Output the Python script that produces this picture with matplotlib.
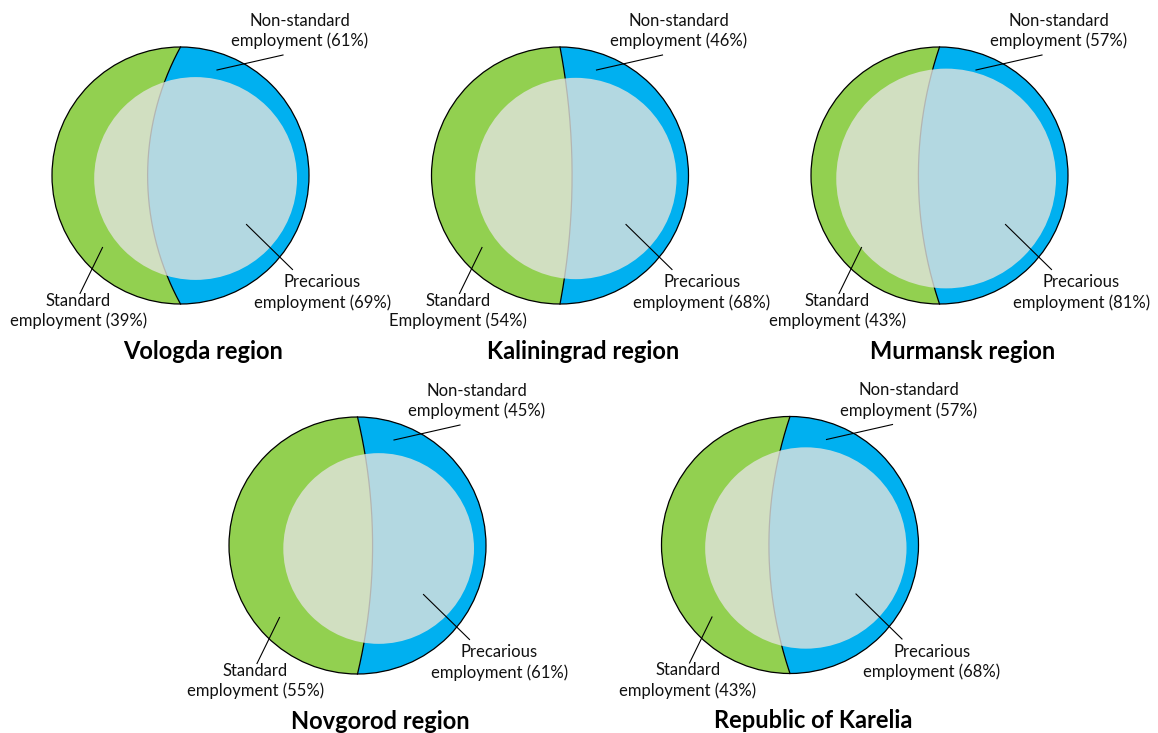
import numpy as np
import matplotlib
matplotlib.use("Agg")
import matplotlib.pyplot as plt
from matplotlib.patches import Polygon, Circle

# ---- data ----
regions = ["Vologda region", "Kaliningrad region", "Murmansk region",
           "Novgorod region", "Republic of Karelia"]
standard = [39, 54, 43, 55, 43]
nonstandard = [61, 46, 57, 45, 57]
precarious = [69, 68, 81, 61, 68]
standard_words = ["Standard\nemployment", "Standard\nEmployment", "Standard\nemployment",
                  "Standard\nemployment", "Standard\nemployment"]

# ---- layout (pixel space) ----
W, H = 1158, 733
centers = [(180.5, 175.5), (560, 175.5), (939.5, 175.5), (357.5, 545.5), (790, 545)]
R = 128.5
GREEN = "#92D050"
BLUE = "#00B0F0"
OVERLAY = (225/255, 227/255, 222/255)
FONT = "Lato"

plt.rcParams['font.family'] = [FONT, 'DejaVu Sans']

fig = plt.figure(figsize=(W/100, H/100), dpi=100)
ax = fig.add_axes([0, 0, 1, 1])
ax.set_xlim(0, W)
ax.set_ylim(H, 0)
ax.axis("off")


def seg_area(s, r):
    # area between chord of length 2r and arc with sagitta s
    if s <= 1e-9:
        return 0.0
    rc = (r*r + s*s) / (2*s)
    th = np.arcsin(min(1.0, r/rc))
    return rc*rc*(th - np.sin(th)*np.cos(th))


def solve_sagitta(frac, r):
    target = abs(0.5 - frac) * np.pi * r * r
    lo, hi = 0.0, r
    for _ in range(60):
        mid = (lo+hi)/2
        if seg_area(mid, r) < target:
            lo = mid
        else:
            hi = mid
    return lo


def divider_points(cx, cy, r, s, n=200):
    # arc from top (cx, cy-r) to bottom (cx, cy+r); s>0 bulges right
    ys = np.linspace(-r, r, n)
    if abs(s) < 1e-6:
        xs = np.zeros_like(ys)
    else:
        rc = (r*r + s*s) / (2*abs(s))
        xs = np.sqrt(rc*rc - ys*ys) - (rc - abs(s))
        xs = xs*np.sign(s)
    return cx + xs, cy + ys


for i, name in enumerate(regions):
    cx, cy = centers[i]
    f = standard[i] / (standard[i] + nonstandard[i])
    s = solve_sagitta(f, R)
    s = s if f > 0.5 else -s
    dx, dy = divider_points(cx, cy, R, s)  # top -> bottom

    ang = np.linspace(np.pi/2, 3*np.pi/2, 200)  # bottom -> left -> top (y down)
    gx = cx + R*np.cos(ang)
    gy = cy + R*np.sin(ang)
    green_pts = np.column_stack([np.concatenate([dx, gx]), np.concatenate([dy, gy])])
    ax.add_patch(Polygon(green_pts, closed=True, facecolor=GREEN, edgecolor="none", zorder=1))
    ang2 = np.linspace(np.pi/2, -np.pi/2, 200)  # bottom -> right -> top
    bx = cx + R*np.cos(ang2)
    by = cy + R*np.sin(ang2)
    blue_pts = np.column_stack([np.concatenate([dx, bx]), np.concatenate([dy, by])])
    ax.add_patch(Polygon(blue_pts, closed=True, facecolor=BLUE, edgecolor="none", zorder=1))
    ax.plot(dx, dy, color="black", lw=0.9, zorder=2)

    # inner (precarious) circle
    r_in = R*np.sqrt(precarious[i]/100.0)*0.95
    icx = cx + R - r_in - 12
    icy = cy + 3
    ax.add_patch(Circle((icx, icy), r_in, facecolor=OVERLAY, alpha=0.8, edgecolor="none", zorder=3))

    ax.add_patch(Circle((cx, cy), R, facecolor="none", edgecolor="black", lw=0.9, zorder=4))

    # leader lines
    lk = dict(color="black", lw=0.8, zorder=5)
    ax.plot([cx+36.5, cx+102.5], [cy-105.5, cy-120.5], **lk)
    ax.plot([cx+66, cx+112], [cy+49, cy+94], **lk)
    ax.plot([cx-78, cx-100.5], [cy+72, cy+118], **lk)

    tk = dict(fontsize=12, color="#111111", ha="center", va="center", linespacing=1.3, zorder=6)
    ax.text(cx+119, cy-144.5, f"Non-standard\nemployment ({nonstandard[i]}%)", **tk)
    ax.text(cx+142, cy+117, f"Precarious\nemployment ({precarious[i]}%)", **tk)
    ax.text(cx-102, cy+135.5, f"{standard_words[i]} ({standard[i]}%)", **tk)
    ax.text(cx+23, cy+176, name, fontsize=17, fontweight="bold", color="black",
            ha="center", va="center", zorder=6)

fig.savefig("out.png", dpi=100, facecolor="white")
